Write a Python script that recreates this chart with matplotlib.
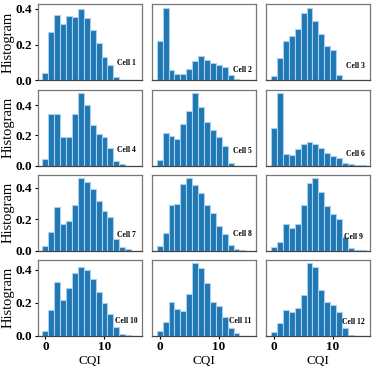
import numpy as np
import matplotlib
matplotlib.use("Agg")
import matplotlib.pyplot as plt

plt.rcParams['font.family'] = ['Liberation Serif', 'DejaVu Serif']

cqi = np.arange(16)

cell_1 = [0.04, 0.27, 0.365, 0.317, 0.363, 0.355, 0.40, 0.35, 0.282, 0.21, 0.13, 0.087, 0.018, 0.004, 0.0, 0.0]
cell_2 = [0.221, 0.405, 0.059, 0.037, 0.037, 0.063, 0.11, 0.138, 0.114, 0.098, 0.085, 0.074, 0.033, 0.009, 0.004, 0.002]
cell_3 = [0.026, 0.125, 0.223, 0.249, 0.285, 0.378, 0.403, 0.331, 0.26, 0.19, 0.168, 0.031, 0.004, 0.0, 0.0, 0.0]
cell_4 = [0.044, 0.345, 0.345, 0.19, 0.19, 0.345, 0.48, 0.40, 0.27, 0.212, 0.188, 0.114, 0.028, 0.009, 0.0, 0.0]
cell_5 = [0.039, 0.219, 0.197, 0.173, 0.275, 0.365, 0.48, 0.389, 0.288, 0.234, 0.19, 0.127, 0.017, 0.0, 0.0, 0.0]
cell_6 = [0.251, 0.48, 0.079, 0.068, 0.109, 0.142, 0.155, 0.144, 0.116, 0.085, 0.066, 0.05, 0.017, 0.007, 0.004, 0.002]
cell_7 = [0.03, 0.12, 0.276, 0.169, 0.186, 0.293, 0.46, 0.436, 0.389, 0.314, 0.254, 0.212, 0.077, 0.021, 0.011, 0.0]
cell_8 = [0.03, 0.115, 0.29, 0.299, 0.421, 0.46, 0.417, 0.367, 0.29, 0.239, 0.154, 0.107, 0.034, 0.011, 0.004, 0.0]
cell_9 = [0.026, 0.056, 0.169, 0.141, 0.171, 0.29, 0.427, 0.46, 0.374, 0.282, 0.233, 0.2, 0.088, 0.019, 0.006, 0.003]
cell_10 = [0.031, 0.156, 0.325, 0.218, 0.288, 0.379, 0.42, 0.40, 0.344, 0.265, 0.2, 0.13, 0.053, 0.012, 0.004, 0.0]
cell_11 = [0.029, 0.086, 0.204, 0.163, 0.15, 0.255, 0.44, 0.41, 0.323, 0.206, 0.179, 0.117, 0.049, 0.014, 0.0, 0.0]
cell_12 = [0.025, 0.076, 0.154, 0.146, 0.167, 0.247, 0.44, 0.42, 0.278, 0.204, 0.185, 0.142, 0.045, 0.004, 0.0, 0.0]

cells = [cell_1, cell_2, cell_3, cell_4, cell_5, cell_6,
         cell_7, cell_8, cell_9, cell_10, cell_11, cell_12]
labels = ["Cell %d" % (i + 1) for i in range(12)]
label_pos = [(0.765, 0.23), (0.78, 0.14), (0.77, 0.19),
             (0.765, 0.20), (0.78, 0.19), (0.77, 0.15),
             (0.765, 0.21), (0.78, 0.22), (0.75, 0.18),
             (0.74, 0.20), (0.74, 0.20), (0.73, 0.18)]

fig, axes = plt.subplots(4, 3, figsize=(3.74, 3.69), dpi=100, sharex=True, sharey='row')
fig.subplots_adjust(left=0.101, right=0.99, top=0.988, bottom=0.09, wspace=0.1, hspace=0.12)

for k, ax in enumerate(axes.flat):
    ax.bar(cqi, cells[k], width=1.0, color='#1f77b4', edgecolor='#a9d0ec', linewidth=0.8)
    for s in ax.spines.values():
        s.set_color('#777777')
        s.set_linewidth(0.9)
    ax.spines['bottom'].set_color('#444444')
    ax.text(label_pos[k][0], label_pos[k][1], labels[k], transform=ax.transAxes,
            fontsize=5.5, fontweight='bold', va='center', ha='left')
    ax.tick_params(length=2.5, width=0.8, pad=1.5)

axes[0, 0].set_xticks([0, 10])
for r in range(4):
    axes[r, 0].set_yticks([0.0, 0.2, 0.4])
    axes[r, 0].set_yticklabels(['0.0', '0.2', '0.4'], fontweight='bold', fontsize=9.5)
    axes[r, 0].set_ylabel('Histogram', fontsize=10.5, labelpad=0.5)
for c in range(3):
    axes[3, c].set_xticklabels(['0', '10'], fontweight='bold', fontsize=9.5)
    axes[3, c].set_xlabel('CQI', fontsize=9.5, labelpad=1)
for r in range(3):
    for c in range(3):
        axes[r, c].tick_params(axis='x', length=0)
for r in range(4):
    for c in range(1, 3):
        axes[r, c].tick_params(axis='y', length=0)

fig.savefig('out.png', dpi=100)
